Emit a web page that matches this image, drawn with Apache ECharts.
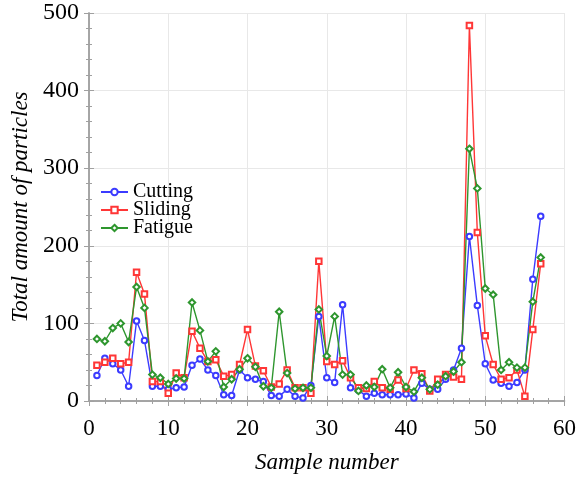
<!DOCTYPE html>
<html>
<head>
<meta charset="utf-8">
<script src="https://cdn.jsdelivr.net/npm/echarts@6/dist/echarts.min.js"></script>
<style>
  html, body { margin: 0; padding: 0; background: #fff; }
  #chart { width: 579px; height: 479px; }
</style>
</head>
<body>
<div id="chart"></div>
<script>
// sample numbers 1..57
const samples = [1,2,3,4,5,6,7,8,9,10,11,12,13,14,15,16,17,18,19,20,21,22,23,24,25,26,27,28,29,30,
  31,32,33,34,35,36,37,38,39,40,41,42,43,44,45,46,47,48,49,50,51,52,53,54,55,56,57];

const cutting = [33,55,48,40,19,103,78,19,19,15,17,18,46,54,40,33,8,7,40,30,
  28,25,7,6,15,6,4,20,109,30,24,124,17,14,6,10,8,8,8,9,
  4,23,15,15,28,40,68,212,123,48,27,23,19,24,40,157,238];

const sliding = [46,50,55,48,50,166,138,25,25,10,36,30,90,68,51,53,32,34,47,92,
  45,39,18,22,40,17,17,10,180,51,47,52,30,17,16,25,17,15,27,16,
  40,35,13,28,34,31,28,484,217,84,47,28,30,40,6,92,177];

const fatigue = [80,77,94,100,76,147,120,34,30,22,29,29,127,91,51,64,18,28,41,55,
  44,19,17,115,36,16,17,17,118,58,109,34,34,13,20,18,41,17,37,18,
  12,30,15,21,32,38,50,325,274,145,137,40,50,43,43,128,185];

const xTicks = [0, 10, 20, 30, 40, 50, 60];
const yTicks = [0, 100, 200, 300, 400, 500];

const serif = '"Liberation Serif", "DejaVu Serif", serif';
const frame = '#a0a0a0';

const pairs = (ys) => samples.map((x, i) => [x, ys[i]]);

const chart = echarts.init(document.getElementById('chart'));

const tickStyle = { show: true, inside: true, length: 5, lineStyle: { color: frame } };
const minorStyle = { show: true, splitNumber: 5, length: 3, lineStyle: { color: frame } };

chart.setOption({
  animation: false,
  grid: { left: 89, right: 13, top: 13, bottom: 77, containLabel: false },
  legend: {
    orient: 'vertical',
    left: 95,
    top: 177,
    itemGap: -2,
    itemWidth: 27,
    itemHeight: 8,
    textStyle: { fontFamily: serif, fontSize: 20, lineHeight: 17.5, color: '#000' },
    data: ['Cutting', 'Sliding', 'Fatigue']
  },
  xAxis: [{
    type: 'value',
    min: xTicks[0],
    max: xTicks[xTicks.length - 1],
    interval: 10,
    name: 'Sample number',
    nameLocation: 'middle',
    nameGap: 50,
    nameTextStyle: { fontFamily: serif, fontSize: 23, fontStyle: 'italic', color: '#000' },
    axisLine: { show: true, lineStyle: { color: frame, width: 1.5 } },
    axisTick: tickStyle,
    minorTick: minorStyle,
    axisLabel: { fontFamily: serif, fontSize: 23, color: '#000', margin: 16 },
    splitLine: { show: true, lineStyle: { color: '#e8e8e8' } }
  }, {
    type: 'value',
    position: 'top',
    min: 0, max: 60, interval: 10,
    axisLine: { show: true, lineStyle: { color: frame, width: 1.5 } },
    axisTick: tickStyle,
    minorTick: minorStyle,
    axisLabel: { show: false },
    splitLine: { show: false }
  }],
  yAxis: [{
    type: 'value',
    min: yTicks[0],
    max: yTicks[yTicks.length - 1],
    interval: 100,
    name: 'Total amount of particles',
    nameLocation: 'middle',
    nameGap: 52,
    nameRotate: 90,
    nameTextStyle: { fontFamily: serif, fontSize: 23, fontStyle: 'italic', color: '#000' },
    axisLine: { show: true, lineStyle: { color: frame, width: 1.5 } },
    axisTick: tickStyle,
    minorTick: minorStyle,
    axisLabel: { fontFamily: serif, fontSize: 24, color: '#000', margin: 10, padding: [5, 0, 0, 0] },
    splitLine: { show: true, lineStyle: { color: '#e8e8e8' } }
  }, {
    type: 'value',
    position: 'right',
    min: 0, max: 500, interval: 100,
    axisLine: { show: true, lineStyle: { color: frame, width: 1.5 } },
    axisTick: tickStyle,
    minorTick: minorStyle,
    axisLabel: { show: false },
    splitLine: { show: false }
  }],
  series: [
    {
      name: 'Cutting', type: 'line', data: pairs(cutting),
      symbol: 'emptyCircle', symbolSize: 5.5,
      itemStyle: { color: '#3b3bff', borderWidth: 1.2 },
      lineStyle: { color: '#3b3bff', width: 1.4 }
    },
    {
      name: 'Sliding', type: 'line', data: pairs(sliding),
      symbol: 'emptyRect', symbolSize: 5.5,
      itemStyle: { color: '#ff3636', borderWidth: 1.2 },
      lineStyle: { color: '#ff3636', width: 1.4 }
    },
    {
      name: 'Fatigue', type: 'line', data: pairs(fatigue),
      symbol: 'emptyDiamond', symbolSize: 6.5,
      itemStyle: { color: '#2e962e', borderWidth: 1.2 },
      lineStyle: { color: '#2e962e', width: 1.4 }
    }
  ]
});
</script>
</body>
</html>
